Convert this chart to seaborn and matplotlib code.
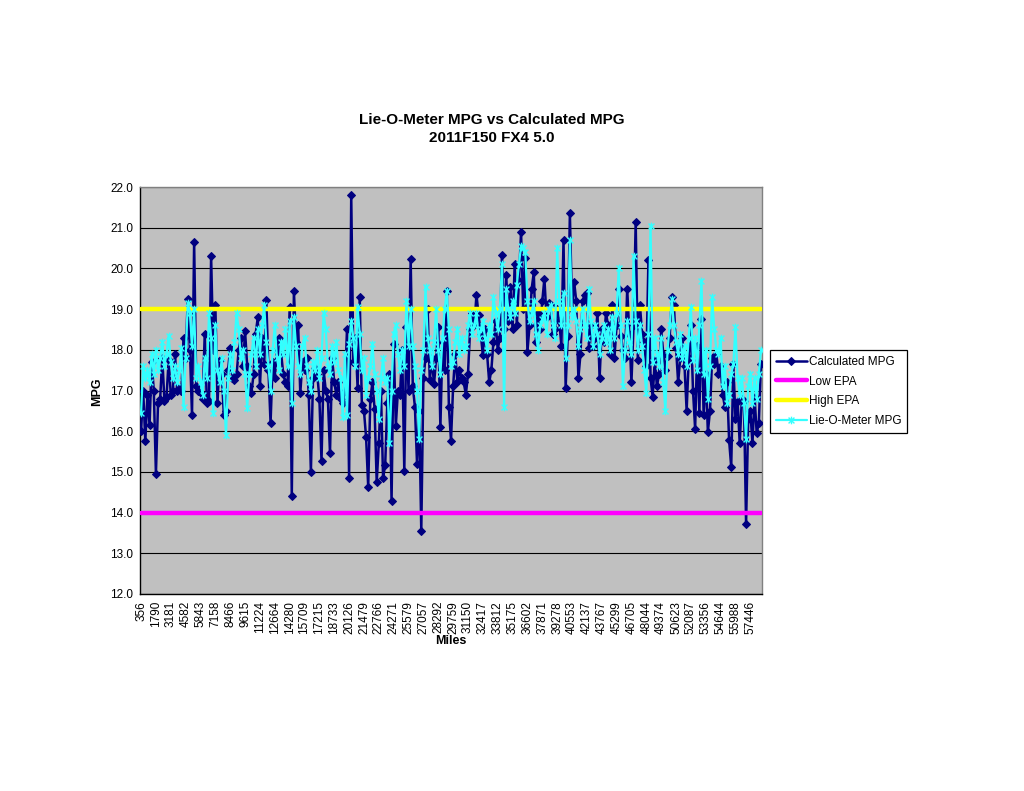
import numpy as np
import pandas as pd
import matplotlib
matplotlib.use("Agg")
import matplotlib.pyplot as plt
import seaborn as sns
from matplotlib.path import Path

# ---------------- data ----------------
title_line1 = "Lie-O-Meter MPG vs Calculated MPG"
title_line2 = "2011F150 FX4 5.0"

label_miles = [356, 1790, 3181, 4582, 5843, 7158, 8466, 9615, 11224, 12664,
               14280, 15709, 17215, 18733, 20126, 21479, 22766, 24271, 25579, 27057,
               28292, 29759, 31150, 32417, 33812, 35175, 36602, 37871, 39278, 40553,
               42137, 43767, 45299, 46705, 48044, 49374, 50623, 52087, 53356, 54644,
               55988, 57446]
label_every = 7  # one mileage label every 7 fill-ups

calculated_mpg = [
    16.0, 17.0, 15.75, 16.9, 16.15, 17.7, 17.0, 14.95, 16.7, 16.8,
    17.8, 16.75, 16.85, 17.75, 16.9, 17.0, 17.9, 17.0, 17.05, 17.0,
    18.3, 17.8, 19.25, 18.0, 16.4, 20.65, 17.1, 17.0, 16.95, 16.8,
    18.4, 16.7, 16.75, 20.3, 18.0, 19.1, 16.7, 17.75, 17.4, 16.4,
    16.5, 17.5, 18.05, 17.3, 17.25, 17.4, 18.0, 18.3, 17.6, 18.45,
    17.6, 17.1, 16.95, 17.4, 18.4, 18.8, 17.1, 18.3, 17.65, 19.22,
    17.5, 16.2, 17.7, 17.3, 18.0, 18.3, 17.9, 17.4, 17.2, 17.1,
    19.05, 14.4, 19.44, 18.2, 18.6, 16.93, 17.7, 17.5, 17.8, 16.9,
    15.0, 17.3, 17.55, 17.4, 16.8, 15.27, 17.5, 17.0, 16.8, 15.46,
    17.8, 17.2, 16.9, 17.2, 16.8, 16.7, 17.0, 18.5, 14.85, 21.8,
    17.7, 18.3, 17.06, 19.3, 16.65, 16.5, 15.85, 14.63, 16.8, 17.2,
    16.55, 14.75, 15.7, 17.0, 14.85, 15.17, 16.7, 17.4, 14.28, 18.15,
    16.13, 17.0, 16.9, 18.0, 15.02, 18.55, 17.0, 20.23, 17.1, 16.6,
    15.2, 16.5, 13.55, 17.3, 17.8, 19.0, 17.25, 17.8, 17.15, 17.8,
    18.55, 16.1, 18.2, 17.5, 19.45, 16.6, 15.77, 17.1, 17.9, 17.2,
    17.5, 17.3, 17.2, 16.9, 17.4, 18.5, 18.9, 18.6, 19.35, 18.85,
    18.4, 17.87, 18.5, 17.9, 17.2, 17.5, 18.2, 18.7, 18.0, 18.3,
    20.33, 18.5, 19.85, 18.7, 19.55, 18.5, 20.1, 18.6, 19.7, 20.9,
    19.0, 20.25, 17.95, 18.6, 19.5, 19.9, 18.2, 18.9, 18.5, 19.2,
    19.75, 18.8, 19.15, 19.1, 18.4, 18.5, 19.0, 18.7, 18.1, 20.7,
    17.06, 18.35, 21.35, 19.0, 19.67, 19.2, 17.3, 17.9, 19.2, 19.35,
    19.4, 18.05, 18.6, 18.1, 18.3, 18.9, 17.3, 18.5, 18.2, 18.9,
    18.6, 17.9, 19.1, 17.8, 18.6, 19.5, 18.35, 18.0, 17.8, 19.5,
    18.4, 17.2, 18.6, 21.15, 17.75, 19.1, 18.4, 18.2, 17.6, 20.2,
    17.3, 16.85, 17.75, 17.1, 17.4, 18.5, 17.9, 17.5, 17.85, 18.3,
    19.3, 19.1, 18.05, 17.2, 17.8, 18.3, 17.6, 16.5, 17.8, 18.6,
    17.0, 16.05, 18.1, 16.45, 18.75, 16.4, 17.4, 15.98, 16.5, 17.8,
    17.65, 17.9, 17.4, 17.6, 16.9, 16.6, 17.2, 15.78, 15.12, 17.65,
    16.3, 16.75, 15.7, 16.8, 16.75, 13.72, 16.3, 16.5, 15.7, 16.85,
    15.95, 16.2, 17.65,
]

lie_o_meter_mpg = [
    16.45, 17.6, 17.3, 17.5, 17.2, 17.9, 17.4, 18.0, 17.5, 17.8,
    18.2, 17.6, 17.9, 18.35, 17.7, 17.3, 17.6, 17.2, 17.5, 18.05,
    16.6, 17.8, 19.15, 18.9, 18.1, 19.0, 17.3, 17.6, 17.2, 16.9,
    17.8, 17.3, 18.9, 18.3, 16.45, 18.6, 17.5, 17.2, 17.8, 17.0,
    15.9, 17.3, 17.9, 17.5, 18.2, 18.9, 18.5, 17.8, 18.0, 17.4,
    16.57, 17.4, 17.9, 18.3, 17.6, 18.5, 17.9, 18.6, 19.1, 18.2,
    17.6, 17.0, 18.0, 18.6, 17.8, 17.5, 18.2, 17.9, 18.5, 17.6,
    18.7, 16.7, 18.8, 18.1, 17.6, 17.4, 18.1, 18.3, 17.6, 17.2,
    17.0, 17.7, 17.5, 18.0, 17.3, 17.8, 18.9, 18.5, 17.6, 17.4,
    18.1, 17.7, 18.2, 17.5, 17.3, 16.35, 17.9, 16.4, 18.15, 18.7,
    18.3, 17.6, 19.05, 18.4, 17.5, 17.8, 16.9, 17.3, 17.6, 18.15,
    17.4, 17.0, 16.3, 17.3, 17.8, 17.2, 17.3, 15.7, 17.0, 18.4,
    18.6, 17.9, 17.5, 18.0, 17.6, 19.2, 18.1, 19.0, 18.1, 17.6,
    17.0, 15.8, 17.5, 18.0, 19.55, 18.3, 18.0, 17.6, 18.2, 19.0,
    18.0, 17.4, 18.3, 19.0, 19.45, 18.5, 17.6, 17.7, 18.2, 18.5,
    17.9, 18.3, 18.0, 18.1, 18.6, 18.9, 18.4, 18.6, 18.9, 18.3,
    18.5, 18.7, 18.3, 18.0, 18.6, 18.4, 19.3, 18.9, 18.5, 19.0,
    20.1, 16.6, 19.5, 19.0, 18.8, 19.2, 18.9, 19.6, 20.1, 20.55,
    20.5, 20.4, 19.2, 18.7, 18.9, 19.2, 18.4, 18.0, 18.6, 18.75,
    18.9, 18.4, 19.0, 19.1, 18.6, 18.3, 20.5, 19.2, 18.6, 19.4,
    17.8, 18.6, 20.7, 18.8, 19.0, 18.7, 18.1, 18.5, 19.0, 18.6,
    18.3, 19.5, 18.7, 18.1, 18.6, 18.4, 17.9, 18.3, 18.6, 18.2,
    18.5, 18.0, 18.8, 18.3, 18.9, 20.0, 18.6, 17.1, 18.0, 18.7,
    18.2, 17.9, 20.3, 18.7, 18.0, 18.6, 18.1, 17.5, 16.95, 18.4,
    21.05, 17.7, 18.3, 17.9, 17.6, 18.3, 17.2, 16.5, 18.0, 18.6,
    19.25, 18.6, 18.2, 17.9, 18.4, 17.8, 18.1, 17.6, 18.3, 19.05,
    17.75, 18.3, 17.5, 18.6, 19.7, 17.4, 18.0, 16.8, 17.6, 19.3,
    18.5, 18.0, 17.9, 18.3, 17.1, 17.6, 16.7, 16.9, 17.4, 17.65,
    18.55, 17.3, 16.9, 17.3, 16.7, 15.8, 17.1, 17.4, 16.7, 17.3,
    16.8, 17.4, 18.0,
]

low_epa = 14.0
high_epa = 19.0

series_names = ["Calculated MPG", "Low EPA", "High EPA", "Lie-O-Meter MPG"]
y_ticks = [12.0, 13.0, 14.0, 15.0, 16.0, 17.0, 18.0, 19.0, 20.0, 21.0, 22.0]

# ---------------- build table ----------------
n = len(calculated_mpg)
idx = np.arange(n)
df = pd.DataFrame({
    "idx": idx,
    "calc": calculated_mpg,
    "low": [low_epa] * n,
    "high": [high_epa] * n,
    "lie": lie_o_meter_mpg,
})

# ---------------- style ----------------
sns.set_theme(style="white")
plt.rcParams["font.family"] = ["Liberation Sans", "DejaVu Sans"]
plt.rcParams["text.color"] = "black"

fig = plt.figure(figsize=(10.24, 7.91), dpi=100)
ax = fig.add_axes([140 / 1024, 1 - 594 / 791, (762 - 140) / 1024, (594 - 187) / 791])
ax.set_facecolor("#C0C0C0")

# star marker like Excel (x with a vertical bar)
star = Path([(-1, -1), (1, 1), (-1, 1), (1, -1), (0, -1.3), (0, 1.3)],
            [Path.MOVETO, Path.LINETO, Path.MOVETO, Path.LINETO, Path.MOVETO, Path.LINETO])

sns.lineplot(data=df, x="idx", y="calc", ax=ax, color="#000080", lw=1.8,
             marker="D", markersize=4.5, markeredgecolor="#000080",
             markerfacecolor="#000080", label=series_names[0], zorder=3)
sns.lineplot(data=df, x="idx", y="low", ax=ax, color="#FF00FF", lw=3.2,
             label=series_names[1], zorder=4)
sns.lineplot(data=df, x="idx", y="high", ax=ax, color="#FFFF00", lw=3.2,
             label=series_names[2], zorder=4)
sns.lineplot(data=df, x="idx", y="lie", ax=ax, color="#33FFFF", lw=1.6,
             marker=star, markersize=5.5, markeredgecolor="#33FFFF",
             markerfacecolor="none", markeredgewidth=1.0,
             label=series_names[3], zorder=5)

# axes ranges
ax.set_ylim(12, 22)
ax.set_xlim(-0.5, n - 0.5)
ax.set_yticks(y_ticks)
ax.set_yticklabels([f"{v:.1f}" for v in y_ticks], fontsize=8.5, color="black")
ax.yaxis.grid(True, color="#000000", lw=0.8)
ax.set_axisbelow(True)

label_pos = [i * label_every for i in range(len(label_miles))]
ax.set_xticks(label_pos)
ax.set_xticklabels([str(m) for m in label_miles], rotation=90, fontsize=8.5, color="black")
ax.set_xticks(np.arange(-0.5, n, 1), minor=True)
ax.tick_params(axis="x", which="major", length=0, pad=5)
ax.tick_params(axis="x", which="minor", length=3, width=0.6, color="black", direction="out")
ax.tick_params(axis="y", which="major", length=3, width=0.8, color="black", direction="out", pad=2)

for s in ["top", "right"]:
    ax.spines[s].set_color("#808080")
    ax.spines[s].set_linewidth(1.0)
for s in ["left", "bottom"]:
    ax.spines[s].set_color("#000000")
    ax.spines[s].set_linewidth(1.0)

ax.set_xlabel("")
ax.set_ylabel("")
fig.text(97 / 1024, 1 - 392 / 791, "MPG", rotation=90, fontsize=9, fontweight="bold",
         ha="center", va="center", color="black")
fig.text(451 / 1024, 1 - 641 / 791, "Miles", fontsize=9, fontweight="bold",
         ha="center", va="center", color="black")

fig.text(492 / 1024, 1 - 120 / 791, title_line1, fontsize=11, fontweight="bold",
         ha="center", va="center", color="black")
fig.text(492 / 1024, 1 - 138 / 791, title_line2, fontsize=11, fontweight="bold",
         ha="center", va="center", color="black")

handles, labels = ax.get_legend_handles_labels()
ax.get_legend().remove()
leg = fig.legend(handles, labels, loc="upper left",
                 bbox_to_anchor=(770 / 1024, 1 - 350 / 791),
                 fontsize=8.5, frameon=True, fancybox=False, framealpha=1,
                 edgecolor="black", handlelength=2.6, handletextpad=0.2,
                 borderpad=0.5, labelspacing=0.65, borderaxespad=0)
leg.get_frame().set_linewidth(0.9)
for t in leg.get_texts():
    t.set_color("black")

fig.savefig("out.png", dpi=100)
